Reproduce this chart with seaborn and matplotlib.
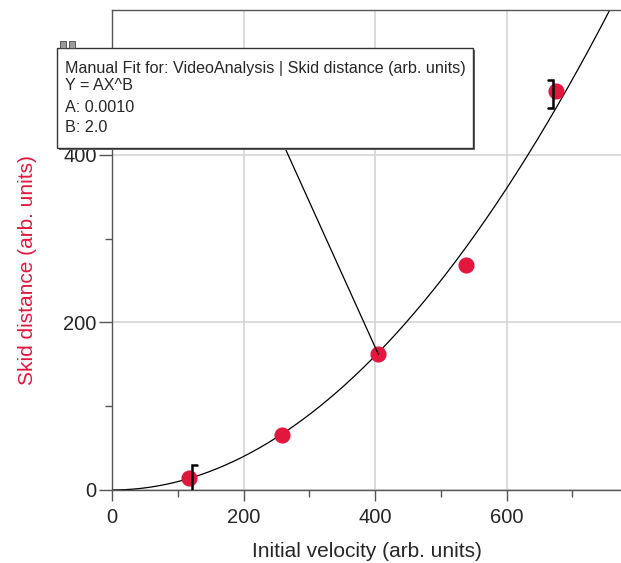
import numpy as np
import pandas as pd
import matplotlib.pyplot as plt
import seaborn as sns
from matplotlib.patches import Rectangle

velocity = [117, 259, 405, 538, 675]
distance = [14, 66, 162, 269, 476]
# bracket-style uncertainty bars: (point index, low, high, side)
err_idx = [0, 4]
err_low = [-2, 456]
err_high = [30, 489]
err_side = [1, -1]

# manual fit Y = A X^B
A = 0.0010
B = 2.0

red = '#e3173e'

sns.set_style("ticks")
plt.rcParams['font.family'] = ['Liberation Sans', 'DejaVu Sans']

fig = plt.figure(figsize=(6.21, 5.63), dpi=100)
ax = fig.add_axes([0.1804, 0.1297, 0.8196, 0.8526])

# fit curve
xfit = np.linspace(0, 780, 300)
fit_df = pd.DataFrame({'x': xfit, 'y': A * xfit ** B})
sns.lineplot(data=fit_df, x='x', y='y', color='black', lw=0.9, ax=ax, zorder=2)

df = pd.DataFrame({'velocity': velocity, 'distance': distance})
sns.scatterplot(data=df, x='velocity', y='distance', color=red, s=135,
                edgecolor=red, linewidth=0, ax=ax, zorder=3)

# uncertainty brackets, caps pointing away from the point
for i, lo, hi, side in zip(err_idx, err_low, err_high, err_side):
    xb = velocity[i] + side * 5
    xc = xb + side * 7
    ax.plot([xc, xb, xb, xc], [lo, lo, hi, hi], color='black', lw=1.8,
            zorder=4, solid_joinstyle='miter')

ax.set_xlim(0, 774)
ax.set_ylim(0, 573)
ax.set_xticks([0, 200, 400, 600])
ax.set_yticks([0, 200, 400])
ax.set_xticks([100, 300, 500, 700], minor=True)
ax.set_yticks([100, 300, 500], minor=True)
ax.grid(True, which='major', color='#d4d4d4', lw=1.2)
ax.set_axisbelow(True)
ax.tick_params(which='major', length=8, width=1, color='#555555', labelsize=14.5)
ax.tick_params(axis='x', which='major', pad=5)
ax.tick_params(axis='y', which='major', length=9.5, pad=1.5)
ax.tick_params(which='minor', length=5, width=1, color='#555555')
for s in ['left', 'bottom', 'top']:
    ax.spines[s].set_color('#555555')
    ax.spines[s].set_linewidth(1)
ax.spines['right'].set_visible(False)

ax.set_xlabel('Initial velocity (arb. units)', fontsize=15, labelpad=11)
ax.set_ylabel('Skid distance (arb. units)', fontsize=15, color=red)
ax.yaxis.set_label_coords(-0.147, 0.458)

# annotation box
bx0, by0, bx1, by1 = 57 / 621, 1 - 148 / 563, 473 / 621, 1 - 48 / 563
fig.patches.append(Rectangle((bx0 + 0.003, by0 - 0.003), bx1 - bx0, by1 - by0,
                             transform=fig.transFigure, facecolor='#666666',
                             edgecolor='none', zorder=5))
fig.patches.append(Rectangle((bx0, by0), bx1 - bx0, by1 - by0, transform=fig.transFigure,
                             facecolor='white', edgecolor='#333333', lw=1, zorder=6))
for ix in [60, 69]:
    fig.patches.append(Rectangle((ix / 621, by1), 6 / 621, 7 / 563, transform=fig.transFigure,
                                 facecolor='#9a9a9a', edgecolor='#444444', lw=0.6, zorder=6))

box_lines = ['Manual Fit for: VideoAnalysis | Skid distance (arb. units)',
             'Y = AX^B', f'A: {A:.4f}', f'B: {B:.1f}']
line_y = [69, 85, 107, 128]
for txt, py in zip(box_lines, line_y):
    fig.text(65 / 621, 1 - py / 563, txt, fontsize=11.6, va='center', ha='left', zorder=7)

# leader line from box to a point
ax.annotate('', xy=(velocity[2], distance[2]), xycoords='data',
            xytext=(285 / 621, by0), textcoords='figure fraction',
            arrowprops=dict(arrowstyle='-', color='black', lw=0.9, shrinkA=0, shrinkB=0))

fig.savefig('out.png', dpi=100)
